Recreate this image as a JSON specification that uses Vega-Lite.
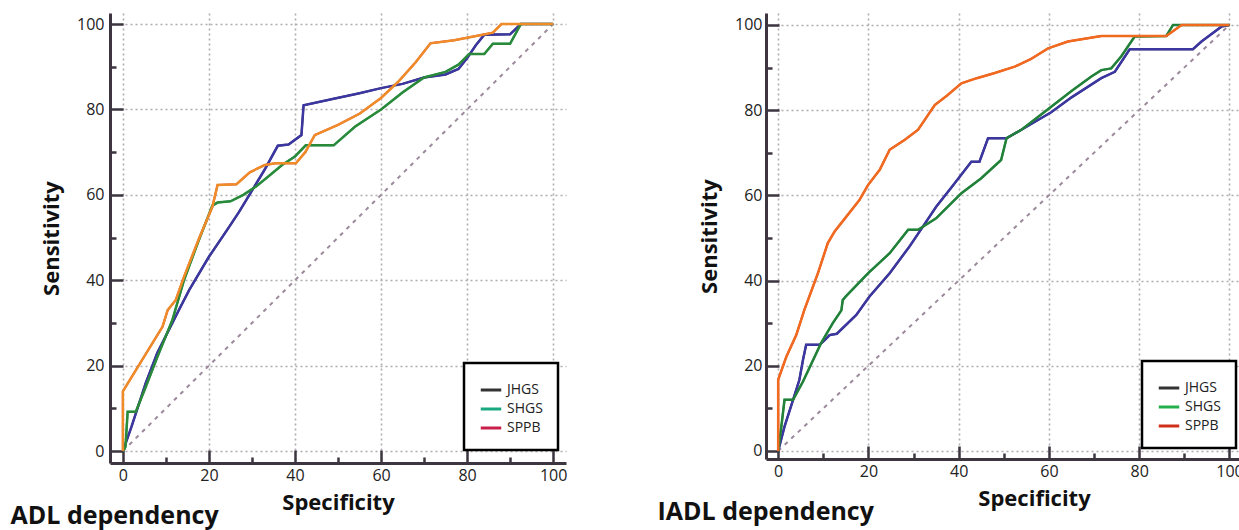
{
  "$schema": "https://vega.github.io/schema/vega-lite/v6.json",
  "background": "white",
  "padding": {"left": 10, "top": 13, "right": 0, "bottom": 5},
  "spacing": 90,
  "config": {
    "view": {"stroke": null},
    "axis": {
      "domainColor": "#3d3540",
      "domainWidth": 3,
      "tickColor": "#3d3540",
      "tickWidth": 2.5,
      "gridColor": "#b0abb0",
      "gridDash": [2, 3],
      "gridWidth": 1.6,
      "labelFont": "Open Sans",
      "labelFontSize": 16,
      "labelColor": "#222222",
      "labelOverlap": false,
      "titleFont": "Open Sans",
      "titleFontSize": 22,
      "titleFontWeight": "bold",
      "titleColor": "#111111",
      "values": [0, 5, 10, 15, 20, 25, 30, 35, 40, 45, 50, 55, 60, 65, 70, 75, 80, 85, 90, 95, 100],
      "labelExpr": "datum.value % 20 === 0 ? datum.label : ''",
      "tickSize": {"condition": {"test": "datum.value % 20 === 0", "value": -13}, "value": -6},
      "gridOpacity": {"condition": {"test": "datum.value % 20 === 0", "value": 1}, "value": 0}
    },
    "legend": {
      "orient": "none",
      "fillColor": "white",
      "strokeColor": "black",
      "padding": 15,
      "labelFont": "Open Sans",
      "labelFontSize": 14,
      "labelColor": "#222222",
      "symbolType": "stroke",
      "symbolSize": 420,
      "symbolStrokeWidth": 3,
      "rowPadding": 0
    },
    "title": {"font": "Open Sans", "fontSize": 25, "fontWeight": "bold", "color": "#111111"}
  },
  "datasets": {
    "diag": [{"x": 0, "y": 0}, {"x": 100, "y": 100}],
    "adl": [
      {"c": "JHGS", "i": 1, "x": 0, "y": 0}, {"c": "JHGS", "i": 2, "x": 2, "y": 5.7}, {"c": "JHGS", "i": 3, "x": 5.3, "y": 15.9}, {"c": "JHGS", "i": 4, "x": 8, "y": 23}, {"c": "JHGS", "i": 5, "x": 11.5, "y": 30}, {"c": "JHGS", "i": 6, "x": 13, "y": 33}, {"c": "JHGS", "i": 7, "x": 15.4, "y": 37.7}, {"c": "JHGS", "i": 8, "x": 20, "y": 45.5}, {"c": "JHGS", "i": 9, "x": 24.7, "y": 52.5}, {"c": "JHGS", "i": 10, "x": 27, "y": 56}, {"c": "JHGS", "i": 11, "x": 30, "y": 61}, {"c": "JHGS", "i": 12, "x": 33, "y": 66}, {"c": "JHGS", "i": 13, "x": 36, "y": 71.5}, {"c": "JHGS", "i": 14, "x": 38.5, "y": 71.8}, {"c": "JHGS", "i": 15, "x": 41.5, "y": 74}, {"c": "JHGS", "i": 16, "x": 42, "y": 81}, {"c": "JHGS", "i": 17, "x": 49, "y": 82.5}, {"c": "JHGS", "i": 18, "x": 55, "y": 83.8}, {"c": "JHGS", "i": 19, "x": 60, "y": 85}, {"c": "JHGS", "i": 20, "x": 65, "y": 86}, {"c": "JHGS", "i": 21, "x": 70, "y": 87.5}, {"c": "JHGS", "i": 22, "x": 75, "y": 88.2}, {"c": "JHGS", "i": 23, "x": 78, "y": 89.5}, {"c": "JHGS", "i": 24, "x": 80, "y": 92}, {"c": "JHGS", "i": 25, "x": 82, "y": 95}, {"c": "JHGS", "i": 26, "x": 84, "y": 97.5}, {"c": "JHGS", "i": 27, "x": 90, "y": 97.6}, {"c": "JHGS", "i": 28, "x": 92.5, "y": 100}, {"c": "JHGS", "i": 29, "x": 100, "y": 100},
      {"c": "SHGS", "i": 1, "x": 0, "y": 0}, {"c": "SHGS", "i": 2, "x": 0.6, "y": 1}, {"c": "SHGS", "i": 3, "x": 1.1, "y": 9.2}, {"c": "SHGS", "i": 4, "x": 3, "y": 9.2}, {"c": "SHGS", "i": 5, "x": 5.3, "y": 15}, {"c": "SHGS", "i": 6, "x": 8, "y": 22}, {"c": "SHGS", "i": 7, "x": 11.5, "y": 30.7}, {"c": "SHGS", "i": 8, "x": 14.2, "y": 40}, {"c": "SHGS", "i": 9, "x": 17.5, "y": 49}, {"c": "SHGS", "i": 10, "x": 20.8, "y": 57.5}, {"c": "SHGS", "i": 11, "x": 22, "y": 58.2}, {"c": "SHGS", "i": 12, "x": 25, "y": 58.5}, {"c": "SHGS", "i": 13, "x": 28, "y": 60}, {"c": "SHGS", "i": 14, "x": 31, "y": 62}, {"c": "SHGS", "i": 15, "x": 34, "y": 64.5}, {"c": "SHGS", "i": 16, "x": 37, "y": 67}, {"c": "SHGS", "i": 17, "x": 40, "y": 69}, {"c": "SHGS", "i": 18, "x": 42.5, "y": 71.6}, {"c": "SHGS", "i": 19, "x": 49, "y": 71.6}, {"c": "SHGS", "i": 20, "x": 54, "y": 76}, {"c": "SHGS", "i": 21, "x": 60, "y": 80}, {"c": "SHGS", "i": 22, "x": 65, "y": 84}, {"c": "SHGS", "i": 23, "x": 70, "y": 87.5}, {"c": "SHGS", "i": 24, "x": 75, "y": 88.8}, {"c": "SHGS", "i": 25, "x": 78, "y": 90.5}, {"c": "SHGS", "i": 26, "x": 80.5, "y": 93}, {"c": "SHGS", "i": 27, "x": 84, "y": 93}, {"c": "SHGS", "i": 28, "x": 86, "y": 95.4}, {"c": "SHGS", "i": 29, "x": 90, "y": 95.4}, {"c": "SHGS", "i": 30, "x": 92.5, "y": 100}, {"c": "SHGS", "i": 31, "x": 100, "y": 100},
      {"c": "SPPB", "i": 1, "x": 0, "y": 0}, {"c": "SPPB", "i": 2, "x": 0, "y": 14}, {"c": "SPPB", "i": 3, "x": 4.2, "y": 20.9}, {"c": "SPPB", "i": 4, "x": 9.2, "y": 29.1}, {"c": "SPPB", "i": 5, "x": 10.4, "y": 33}, {"c": "SPPB", "i": 6, "x": 12.3, "y": 35.4}, {"c": "SPPB", "i": 7, "x": 14.2, "y": 40.8}, {"c": "SPPB", "i": 8, "x": 17.7, "y": 49.8}, {"c": "SPPB", "i": 9, "x": 20.8, "y": 57.2}, {"c": "SPPB", "i": 10, "x": 22, "y": 62.3}, {"c": "SPPB", "i": 11, "x": 26.4, "y": 62.5}, {"c": "SPPB", "i": 12, "x": 29.5, "y": 65.3}, {"c": "SPPB", "i": 13, "x": 33, "y": 67}, {"c": "SPPB", "i": 14, "x": 35.5, "y": 67.4}, {"c": "SPPB", "i": 15, "x": 40.2, "y": 67.4}, {"c": "SPPB", "i": 16, "x": 42.4, "y": 70}, {"c": "SPPB", "i": 17, "x": 44.6, "y": 74}, {"c": "SPPB", "i": 18, "x": 50, "y": 76.4}, {"c": "SPPB", "i": 19, "x": 55, "y": 79}, {"c": "SPPB", "i": 20, "x": 60, "y": 82.7}, {"c": "SPPB", "i": 21, "x": 64.2, "y": 86.7}, {"c": "SPPB", "i": 22, "x": 68, "y": 91}, {"c": "SPPB", "i": 23, "x": 71.5, "y": 95.5}, {"c": "SPPB", "i": 24, "x": 77, "y": 96.2}, {"c": "SPPB", "i": 25, "x": 83, "y": 97.4}, {"c": "SPPB", "i": 26, "x": 86, "y": 98}, {"c": "SPPB", "i": 27, "x": 88, "y": 100}, {"c": "SPPB", "i": 28, "x": 100, "y": 100}
    ],
    "iadl": [
      {"c": "JHGS", "i": 1, "x": 0, "y": 0}, {"c": "JHGS", "i": 2, "x": 1.4, "y": 5.7}, {"c": "JHGS", "i": 3, "x": 3.3, "y": 12}, {"c": "JHGS", "i": 4, "x": 4.7, "y": 16.7}, {"c": "JHGS", "i": 5, "x": 5.5, "y": 21.4}, {"c": "JHGS", "i": 6, "x": 6.2, "y": 24.9}, {"c": "JHGS", "i": 7, "x": 9.2, "y": 24.9}, {"c": "JHGS", "i": 8, "x": 10.3, "y": 26}, {"c": "JHGS", "i": 9, "x": 11.4, "y": 27.2}, {"c": "JHGS", "i": 10, "x": 13, "y": 27.5}, {"c": "JHGS", "i": 11, "x": 17.3, "y": 31.9}, {"c": "JHGS", "i": 12, "x": 20.2, "y": 36.2}, {"c": "JHGS", "i": 13, "x": 24.7, "y": 41.7}, {"c": "JHGS", "i": 14, "x": 29.1, "y": 48}, {"c": "JHGS", "i": 15, "x": 32.1, "y": 52.7}, {"c": "JHGS", "i": 16, "x": 35, "y": 57.3}, {"c": "JHGS", "i": 17, "x": 38.5, "y": 62}, {"c": "JHGS", "i": 18, "x": 42.8, "y": 67.9}, {"c": "JHGS", "i": 19, "x": 44.6, "y": 67.9}, {"c": "JHGS", "i": 20, "x": 46.5, "y": 73.4}, {"c": "JHGS", "i": 21, "x": 50.6, "y": 73.4}, {"c": "JHGS", "i": 22, "x": 53.9, "y": 75.4}, {"c": "JHGS", "i": 23, "x": 60.5, "y": 79.5}, {"c": "JHGS", "i": 24, "x": 65, "y": 83}, {"c": "JHGS", "i": 25, "x": 71.6, "y": 87.5}, {"c": "JHGS", "i": 26, "x": 74.6, "y": 89}, {"c": "JHGS", "i": 27, "x": 77.9, "y": 94.3}, {"c": "JHGS", "i": 28, "x": 91.9, "y": 94.3}, {"c": "JHGS", "i": 29, "x": 93.8, "y": 96.1}, {"c": "JHGS", "i": 30, "x": 98.2, "y": 99.6}, {"c": "JHGS", "i": 31, "x": 100, "y": 100},
      {"c": "SHGS", "i": 1, "x": 0, "y": 0}, {"c": "SHGS", "i": 2, "x": 0.7, "y": 5.7}, {"c": "SHGS", "i": 3, "x": 1.4, "y": 12}, {"c": "SHGS", "i": 4, "x": 3.3, "y": 12}, {"c": "SHGS", "i": 5, "x": 5.5, "y": 16.3}, {"c": "SHGS", "i": 6, "x": 9.5, "y": 25.3}, {"c": "SHGS", "i": 7, "x": 12.1, "y": 30}, {"c": "SHGS", "i": 8, "x": 14, "y": 33}, {"c": "SHGS", "i": 9, "x": 14.3, "y": 35.4}, {"c": "SHGS", "i": 10, "x": 15, "y": 36.3}, {"c": "SHGS", "i": 11, "x": 19.9, "y": 41.7}, {"c": "SHGS", "i": 12, "x": 24.7, "y": 46.4}, {"c": "SHGS", "i": 13, "x": 28.8, "y": 51.9}, {"c": "SHGS", "i": 14, "x": 31, "y": 51.9}, {"c": "SHGS", "i": 15, "x": 33.2, "y": 53.4}, {"c": "SHGS", "i": 16, "x": 35, "y": 54.6}, {"c": "SHGS", "i": 17, "x": 40.6, "y": 60.5}, {"c": "SHGS", "i": 18, "x": 45, "y": 64}, {"c": "SHGS", "i": 19, "x": 49.4, "y": 68.3}, {"c": "SHGS", "i": 20, "x": 50.6, "y": 73.4}, {"c": "SHGS", "i": 21, "x": 53.9, "y": 75.4}, {"c": "SHGS", "i": 22, "x": 60.5, "y": 80.8}, {"c": "SHGS", "i": 23, "x": 65, "y": 84.5}, {"c": "SHGS", "i": 24, "x": 69.4, "y": 87.9}, {"c": "SHGS", "i": 25, "x": 71.6, "y": 89.4}, {"c": "SHGS", "i": 26, "x": 73.8, "y": 89.8}, {"c": "SHGS", "i": 27, "x": 76, "y": 92.6}, {"c": "SHGS", "i": 28, "x": 79, "y": 97.3}, {"c": "SHGS", "i": 29, "x": 86, "y": 97.4}, {"c": "SHGS", "i": 30, "x": 87.5, "y": 100}, {"c": "SHGS", "i": 31, "x": 100, "y": 100},
      {"c": "SPPB", "i": 1, "x": 0, "y": 0}, {"c": "SPPB", "i": 2, "x": 0, "y": 16.7}, {"c": "SPPB", "i": 3, "x": 1.8, "y": 22.1}, {"c": "SPPB", "i": 4, "x": 4, "y": 27.2}, {"c": "SPPB", "i": 5, "x": 5.8, "y": 33.1}, {"c": "SPPB", "i": 6, "x": 8.8, "y": 41.7}, {"c": "SPPB", "i": 7, "x": 11, "y": 48.8}, {"c": "SPPB", "i": 8, "x": 12.5, "y": 51.5}, {"c": "SPPB", "i": 9, "x": 15.1, "y": 55}, {"c": "SPPB", "i": 10, "x": 18, "y": 58.9}, {"c": "SPPB", "i": 11, "x": 19.9, "y": 62.4}, {"c": "SPPB", "i": 12, "x": 22.5, "y": 66}, {"c": "SPPB", "i": 13, "x": 24.7, "y": 70.7}, {"c": "SPPB", "i": 14, "x": 28, "y": 73}, {"c": "SPPB", "i": 15, "x": 31, "y": 75.4}, {"c": "SPPB", "i": 16, "x": 34.7, "y": 81.2}, {"c": "SPPB", "i": 17, "x": 37.5, "y": 83.5}, {"c": "SPPB", "i": 18, "x": 40.6, "y": 86.3}, {"c": "SPPB", "i": 19, "x": 44, "y": 87.5}, {"c": "SPPB", "i": 20, "x": 48, "y": 88.7}, {"c": "SPPB", "i": 21, "x": 52.4, "y": 90.2}, {"c": "SPPB", "i": 22, "x": 56, "y": 92}, {"c": "SPPB", "i": 23, "x": 59.8, "y": 94.5}, {"c": "SPPB", "i": 24, "x": 64.2, "y": 96.1}, {"c": "SPPB", "i": 25, "x": 71.6, "y": 97.4}, {"c": "SPPB", "i": 26, "x": 86, "y": 97.4}, {"c": "SPPB", "i": 27, "x": 89.4, "y": 100}, {"c": "SPPB", "i": 28, "x": 100, "y": 100}
    ]
  },
  "hconcat": [
    {
      "width": 456,
      "height": 450,
      "title": {"text": "ADL dependency", "orient": "bottom", "anchor": "start", "frame": "bounds", "dx": -30, "offset": -9},
      "layer": [
        {
          "data": {"name": "diag"},
          "mark": {"type": "line", "color": "#9c8a9c", "strokeWidth": 2, "strokeDash": [4, 5]},
          "encoding": {
            "x": {"field": "x", "type": "quantitative", "scale": {"domain": [-3, 103], "nice": false, "zero": false}, "axis": {"title": "Specificity", "labelPadding": 17, "titlePadding": 2}},
            "y": {"field": "y", "type": "quantitative", "scale": {"domain": [-2.8, 102.6], "nice": false, "zero": false}, "axis": {"title": "Sensitivity", "labelPadding": 19, "titlePadding": 13}}
          }
        },
        {
          "data": {"name": "adl"},
          "mark": {"type": "line", "strokeWidth": 2},
          "encoding": {
            "x": {"field": "x", "type": "quantitative"},
            "y": {"field": "y", "type": "quantitative"},
            "order": {"field": "i", "type": "quantitative"},
            "color": {
              "field": "c", "type": "nominal",
              "scale": {"domain": ["JHGS", "SHGS", "SPPB"], "range": ["#333333", "#1aa880", "#c8204a"]},
              "legend": {"title": null, "legendX": 354, "legendY": 350, "labelExpr": "datum.label + '\u00a0\u00a0\u00a0'", "encode": {"legend": {"update": {"strokeWidth": {"value": 2.5}}}}}
            }
          }
        },
        {
          "data": {"name": "adl"},
          "mark": {"type": "line", "strokeWidth": 2.5},
          "encoding": {
            "x": {"field": "x", "type": "quantitative"},
            "y": {"field": "y", "type": "quantitative"},
            "order": {"field": "i", "type": "quantitative"},
            "stroke": {
              "field": "c", "type": "nominal",
              "scale": {"domain": ["JHGS", "SHGS", "SPPB"], "range": ["#3b36a0", "#2b8a3a", "#f08c28"]},
              "legend": null
            }
          }
        }
      ]
    },
    {
      "width": 477,
      "height": 446,
      "title": {"text": "IADL dependency", "orient": "bottom", "anchor": "start", "frame": "bounds", "dx": -41, "offset": -9},
      "layer": [
        {
          "data": {"name": "diag"},
          "mark": {"type": "line", "color": "#9c8a9c", "strokeWidth": 2, "strokeDash": [4, 5]},
          "encoding": {
            "x": {"field": "x", "type": "quantitative", "scale": {"domain": [-2.7, 103], "nice": false, "zero": false}, "axis": {"title": "Specificity", "labelPadding": 17, "titlePadding": 2, "titleX": 268}},
            "y": {"field": "y", "type": "quantitative", "scale": {"domain": [-1.9, 102.8], "nice": false, "zero": false}, "axis": {"title": "Sensitivity", "labelPadding": 17, "titlePadding": 13}}
          }
        },
        {
          "data": {"name": "iadl"},
          "mark": {"type": "line", "strokeWidth": 2},
          "encoding": {
            "x": {"field": "x", "type": "quantitative"},
            "y": {"field": "y", "type": "quantitative"},
            "order": {"field": "i", "type": "quantitative"},
            "color": {
              "field": "c", "type": "nominal",
              "scale": {"domain": ["JHGS", "SHGS", "SPPB"], "range": ["#333333", "#22b04a", "#d0301a"]},
              "legend": {"title": null, "legendX": 376, "legendY": 348, "encode": {"legend": {"update": {"strokeWidth": {"value": 2.5}}}}}
            }
          }
        },
        {
          "data": {"name": "iadl"},
          "mark": {"type": "line", "strokeWidth": 2.5},
          "encoding": {
            "x": {"field": "x", "type": "quantitative"},
            "y": {"field": "y", "type": "quantitative"},
            "order": {"field": "i", "type": "quantitative"},
            "stroke": {
              "field": "c", "type": "nominal",
              "scale": {"domain": ["JHGS", "SHGS", "SPPB"], "range": ["#3b36a0", "#23803a", "#f06a20"]},
              "legend": null
            }
          }
        }
      ]
    }
  ],
  "resolve": {"scale": {"color": "independent", "stroke": "independent", "x": "independent", "y": "independent"}}
}
